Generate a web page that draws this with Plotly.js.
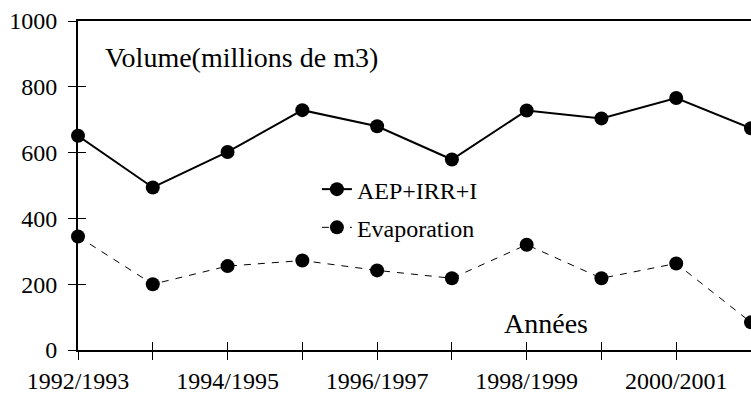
<!DOCTYPE html>
<html>
<head>
<meta charset="utf-8">
<script src="https://cdn.plot.ly/plotly-3.0.1.min.js"></script>
<style>
  body { margin: 0; background: #fff; }
  #plot-div { width: 751px; height: 400px; }
</style>
</head>
<body>
<div id="plot-div"></div>
<script>
var years = ["1992/1993", "1993/1994", "1994/1995", "1995/1996", "1996/1997",
             "1997/1998", "1998/1999", "1999/2000", "2000/2001", "2001/2002"];
var tickLabels = ["1992/1993", "", "1994/1995", "", "1996/1997",
                  "", "1998/1999", "", "2000/2001", ""];
var aepIrr = [651, 494, 602, 729, 680, 579, 728, 704, 766, 674];
var evaporation = [345, 200, 255, 272, 242, 218, 320, 218, 263, 84];
var yTicks = [0, 200, 400, 600, 800, 1000];

var serif = "Liberation Serif";

// evaporation sits on the overlay axes so both tick sets get drawn (crossing ticks)
var traceAep = {
  x: years,
  y: aepIrr,
  name: "AEP+IRR+I",
  mode: "lines+markers",
  type: "scatter",
  cliponaxis: false,
  legendgroup: "a",
  line: { color: "#000", width: 2 },
  marker: { color: "#000", size: 14 }
};

var traceEvap = {
  x: years,
  y: evaporation,
  xaxis: "x2",
  yaxis: "y2",
  name: "Evaporation",
  mode: "lines+markers",
  type: "scatter",
  cliponaxis: false,
  legendgroup: "b",
  line: { color: "#000", width: 1, dash: "7px,7px" },
  marker: { color: "#000", size: 14 }
};

var layout = {
  width: 751,
  height: 400,
  margin: { l: 78, r: 0, t: 21, b: 50, pad: 0 },
  paper_bgcolor: "#fff",
  plot_bgcolor: "#fff",
  font: { family: serif, color: "#000", size: 24 },
  showlegend: true,
  legend: {
    x: 0.355,
    y: 0.43,
    xanchor: "left",
    yanchor: "middle",
    bgcolor: "rgba(0,0,0,0)",
    font: { family: serif, size: 24, color: "#000" },
    tracegroupgap: 4,
    itemwidth: 30
  },
  xaxis: {
    type: "category",
    range: [0, 9],
    tickvals: years,
    ticktext: tickLabels,
    ticks: "outside",
    ticklen: 8,
    tickcolor: "#000",
    tickwidth: 1,
    showline: true,
    linecolor: "#000",
    linewidth: 2,
    mirror: true,
    showgrid: false,
    zeroline: false,
    tickfont: { family: serif, size: 24, color: "#000" }
  },
  yaxis: {
    range: [0, 1000],
    tickvals: yTicks,
    ticks: "outside",
    ticklen: 8,
    tickcolor: "#000",
    tickwidth: 1,
    showline: true,
    linecolor: "#000",
    linewidth: 2,
    showgrid: false,
    zeroline: false,
    ticklabelstandoff: 6,
    tickfont: { family: serif, size: 24, color: "#000" }
  },
  xaxis2: {
    overlaying: "x",
    anchor: "y2",
    type: "category",
    range: [0, 9],
    tickvals: years,
    ticks: "inside",
    ticklen: 8,
    tickcolor: "#000",
    showticklabels: false,
    showgrid: false,
    zeroline: false,
    showline: false
  },
  yaxis2: {
    overlaying: "y",
    anchor: "x2",
    side: "left",
    range: [0, 1000],
    tickvals: yTicks,
    ticks: "inside",
    ticklen: 8,
    tickcolor: "#000",
    showticklabels: false,
    showgrid: false,
    zeroline: false,
    showline: false
  },
  annotations: [
    {
      text: "Volume(millions de m3)",
      xref: "paper", yref: "paper",
      x: 0.037, y: 0.888,
      xanchor: "left", yanchor: "middle",
      showarrow: false,
      font: { family: serif, size: 28, color: "#000" }
    },
    {
      text: "Années",
      xref: "paper", yref: "paper",
      x: 0.695, y: 0.08,
      xanchor: "center", yanchor: "middle",
      showarrow: false,
      font: { family: serif, size: 28, color: "#000" }
    }
  ]
};

Plotly.newPlot("plot-div", [traceAep, traceEvap], layout, { displayModeBar: false, staticPlot: true });
</script>
</body>
</html>
